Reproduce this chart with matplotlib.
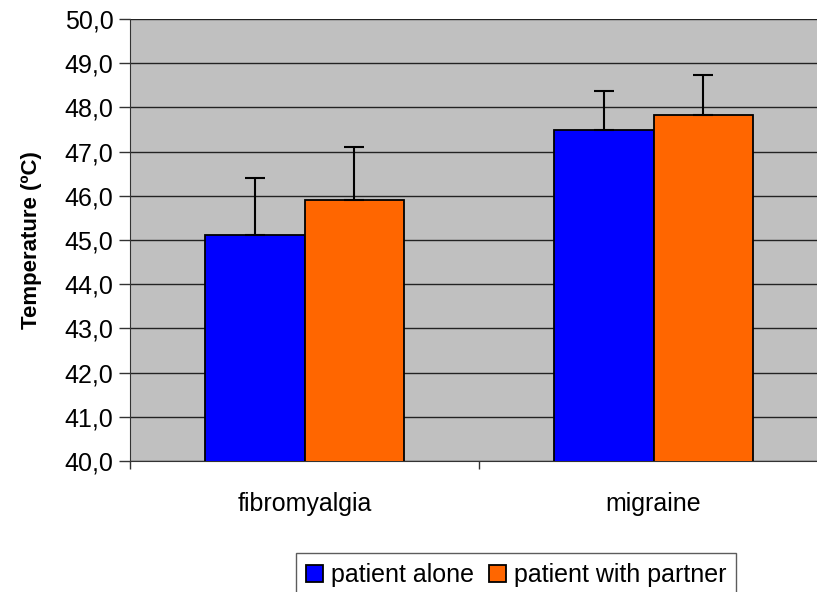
import matplotlib
matplotlib.use("Agg")
import matplotlib.pyplot as plt
import numpy as np
from matplotlib.ticker import FuncFormatter

plt.rcParams['font.family'] = ['Liberation Sans', 'DejaVu Sans']

categories = ['fibromyalgia', 'migraine']
series = ['patient alone', 'patient with partner']
alone = [45.11, 47.50]
alone_err = [1.30, 0.87]
partner = [45.90, 47.82]
partner_err = [1.21, 0.91]
colors = ['#0000FF', '#FF6600']

fig = plt.figure(figsize=(8.17, 5.92), dpi=100)
ax = fig.add_axes([130 / 817, 1 - 461 / 592, 698 / 817, 442 / 592])
ax.set_facecolor('#C0C0C0')

x = np.arange(len(categories))
w = 0.285
err_kw = dict(ecolor='black', elinewidth=1.5, capsize=7, capthick=1.5)
ax.bar(x - w / 2, alone, w, color=colors[0], edgecolor='black', linewidth=1.3,
       yerr=[np.zeros(2), alone_err], error_kw=err_kw, label=series[0], zorder=3)
ax.bar(x + w / 2, partner, w, color=colors[1], edgecolor='black', linewidth=1.3,
       yerr=[np.zeros(2), partner_err], error_kw=err_kw, label=series[1], zorder=3)

ax.set_ylim(40, 50)
ax.set_xlim(-0.5, 1.5)
ax.set_yticks(np.arange(40, 51, 1))
ax.yaxis.set_major_formatter(FuncFormatter(lambda v, p: f'{v:.1f}'.replace('.', ',')))
ax.yaxis.grid(True, color='#222222', linewidth=1.0, zorder=0)
ax.set_axisbelow(True)

ax.set_xticks([-0.5, 0.5, 1.5])
ax.set_xticklabels([])
ax.set_xticks(x, minor=True)
ax.set_xticklabels(categories, minor=True)
ax.tick_params(axis='x', which='minor', length=0, pad=22, labelsize=18)
ax.tick_params(axis='x', which='major', length=6, width=1, color='#333333', direction='out')
ax.tick_params(axis='y', length=8, width=1, color='#333333', labelsize=18, pad=4)

for s in ['top', 'right']:
    ax.spines[s].set_visible(False)
ax.spines['left'].set_color('#333333')
ax.spines['bottom'].set_color('#333333')

ax.set_ylabel('Temperature (ºC)', fontsize=16, fontweight='bold', labelpad=16)

leg = fig.legend(loc='upper center', bbox_to_anchor=(516 / 817, 1 - 553 / 592), ncol=2,
                 fontsize=18, frameon=True, fancybox=False, edgecolor='#333333',
                 handlelength=0.7, handleheight=0.7, handletextpad=0.3, columnspacing=0.6,
                 borderpad=0.4, borderaxespad=0)
leg.get_frame().set_linewidth(1.0)

fig.savefig('out.png', dpi=100)
